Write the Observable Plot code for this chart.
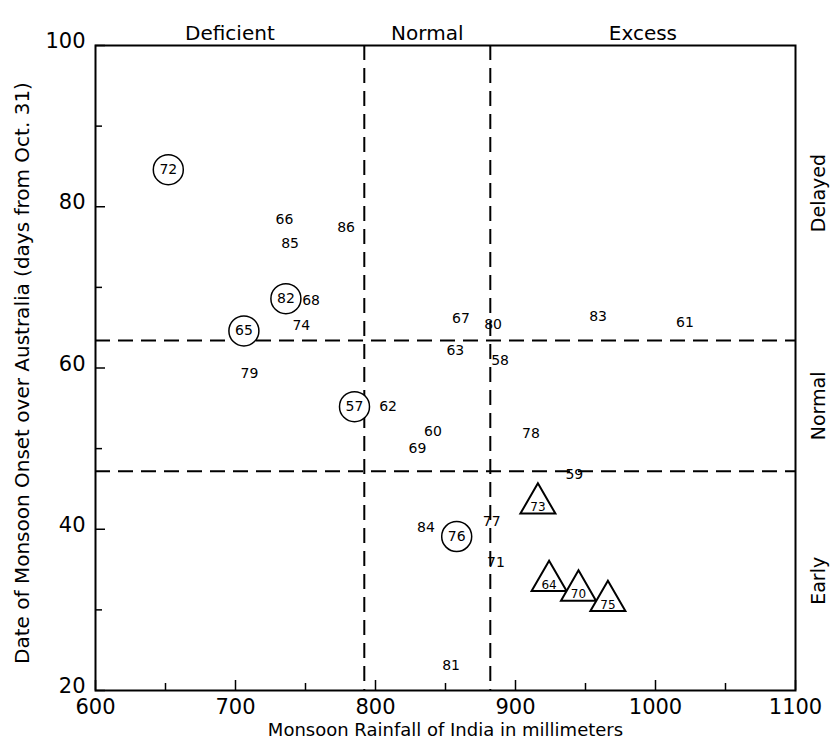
<!DOCTYPE html>
<html>
<head>
<meta charset="utf-8">
<script src="https://cdn.jsdelivr.net/npm/d3@7"></script>
<script src="https://cdn.jsdelivr.net/npm/@observablehq/plot@0.6"></script>
<style>
  html, body { margin: 0; padding: 0; background: white; }
</style>
</head>
<body>
<div id="chart"></div>
<script>
// El Niño years (circled)
const circleYears = ["72", "82", "65", "57", "76"];
const circleRain = [652, 736, 706, 785, 858];
const circleOnset = [84.6, 68.6, 64.6, 55.2, 39.1];

// La Niña years (triangles)
const triYears = ["73", "64", "70", "75"];
const triRain = [916, 924, 945, 966];
const triOnset = [43.2, 33.6, 32.4, 31.1];

// Other years
const otherYears = ["66", "85", "86", "68", "74", "79", "62", "60", "69", "67", "63", "80", "58", "83", "61", "78", "59", "84", "77", "71", "81"];
const otherRain = [735, 739, 779, 754, 747, 710, 809, 841, 830, 861, 857, 884, 889, 959, 1021, 911, 942, 836, 883, 886, 854];
const otherOnset = [78.4, 75.4, 77.4, 68.4, 65.3, 59.3, 55.2, 52.1, 50.0, 66.1, 62.2, 65.4, 60.9, 66.4, 65.6, 51.9, 46.8, 40.2, 40.9, 35.9, 23.1];

// Category thresholds
const rainDivs = [792, 882];
const onsetDivs = [47.2, 63.4];
const rainDomain = [600, 1100];
const onsetDomain = [20, 100];
const rainClasses = ["Deficient", "Normal", "Excess"];
const onsetClasses = ["Early", "Normal", "Delayed"];

// Ticks
const xMajor = [600, 700, 800, 900, 1000, 1100];
const xMinor = [650, 750, 850, 950, 1050];
const yMajor = [20, 40, 60, 80, 100];
const yMinor = [30, 50, 70, 90];

const xTitle = "Monsoon Rainfall of India in millimeters";
const yTitle = "Date of Monsoon Onset over Australia (days from Oct. 31)";

const circles = circleYears.map((t, i) => ({t, x: circleRain[i], y: circleOnset[i]}));
const tris = triYears.map((t, i) => ({t, x: triRain[i], y: triOnset[i]}));
const others = otherYears.map((t, i) => ({t, x: otherRain[i], y: otherOnset[i]}));

const xEdges = [rainDomain[0], ...rainDivs, rainDomain[1]];
const yEdges = [onsetDomain[0], ...onsetDivs, onsetDomain[1]];
const topLabels = rainClasses.map((t, i) => ({t, x: (xEdges[i] + xEdges[i + 1]) / 2}));
const rightLabels = onsetClasses.map((t, i) => ({t, y: (yEdges[i] + yEdges[i + 1]) / 2}));

const dash = "15,8";
const fmt = d => String(d);

const chart = Plot.plot({
  width: 836,
  height: 743,
  marginLeft: 95,
  marginRight: 41,
  marginTop: 45,
  marginBottom: 53,
  style: {fontFamily: "DejaVu Sans, sans-serif", background: "white", color: "black"},
  x: {domain: rainDomain},
  y: {domain: onsetDomain},
  marks: [
    Plot.ruleX(rainDivs, {stroke: "black", strokeWidth: 2, strokeDasharray: dash}),
    Plot.ruleY(onsetDivs, {stroke: "black", strokeWidth: 2, strokeDasharray: dash}),
    Plot.frame({stroke: "black", strokeWidth: 2}),
    Plot.axisX({ticks: xMajor, tickSize: 0, tickPadding: 9, fontSize: 21, tickFormat: fmt, label: null}),
    Plot.axisX({ticks: xMajor, tickSize: -10, tickFormat: () => "", label: null, strokeWidth: 1.5}),
    Plot.axisX({ticks: xMinor, tickSize: -7, tickFormat: () => "", label: null, strokeWidth: 1.5}),
    Plot.axisY({ticks: yMajor, tickSize: 0, tickPadding: 10, fontSize: 21, dy: -4, tickFormat: fmt, label: null}),
    Plot.axisY({ticks: yMajor, tickSize: -10, tickFormat: () => "", label: null, strokeWidth: 1.5}),
    Plot.axisY({ticks: yMinor, tickSize: -7, tickFormat: () => "", label: null, strokeWidth: 1.5}),
    Plot.text([xTitle], {text: d => d, frameAnchor: "bottom", dy: 45, fontSize: 18}),
    Plot.text([yTitle], {text: d => d, frameAnchor: "left", textAnchor: "middle", dx: -73, dy: 5, rotate: -90, fontSize: 20}),
    Plot.text(topLabels, {x: "x", text: "t", frameAnchor: "top", dy: -20, fontSize: 20}),
    Plot.text(rightLabels, {y: "y", text: "t", frameAnchor: "right", textAnchor: "middle", dx: 23, rotate: -90, fontSize: 19}),
    Plot.dot(circles, {x: "x", y: "y", r: 15, stroke: "black", fill: "white", strokeWidth: 1.5}),
    Plot.dot(tris, {x: "x", y: "y", symbol: "triangle", r: 13, stroke: "black", fill: "white", strokeWidth: 2}),
    Plot.text(circles, {x: "x", y: "y", text: "t", fontSize: 14}),
    Plot.text(tris, {x: "x", y: "y", text: "t", fontSize: 12, dy: 4}),
    Plot.text(others, {x: "x", y: "y", text: "t", fontSize: 14})
  ]
});
document.getElementById("chart").appendChild(chart);
</script>
</body>
</html>
